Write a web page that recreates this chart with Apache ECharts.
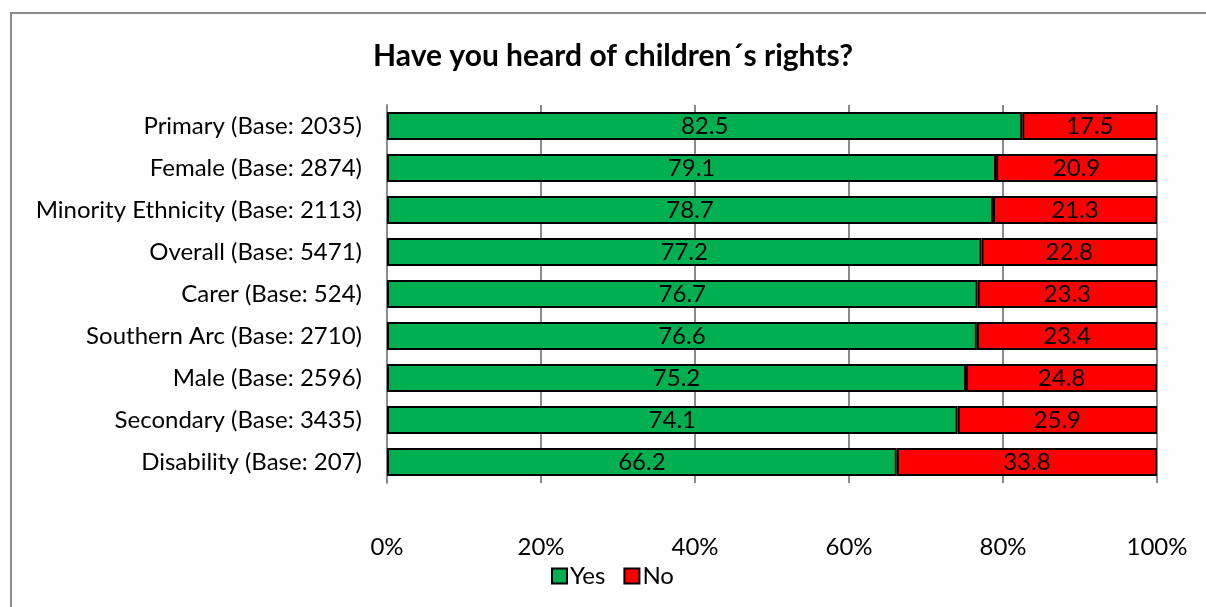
<!DOCTYPE html>
<html><head><meta charset="utf-8">
<script src="https://cdn.jsdelivr.net/npm/echarts@6/dist/echarts.min.js"></script>
<style>html,body{margin:0;padding:0;background:#fff}#c{width:1206px;height:607px}</style>
</head><body><div id="c"></div>
<script>
const categories = ["Primary (Base: 2035)","Female (Base: 2874)","Minority Ethnicity (Base: 2113)","Overall (Base: 5471)","Carer (Base: 524)","Southern Arc (Base: 2710)","Male (Base: 2596)","Secondary (Base: 3435)","Disability (Base: 207)"];
const yesValues = [82.5,79.1,78.7,77.2,76.7,76.6,75.2,74.1,66.2];
const noValues = [17.5,20.9,21.3,22.8,23.3,23.4,24.8,25.9,33.8];
const xTicks = [0,20,40,60,80,100];
const FONT = "Lato, 'Liberation Sans', sans-serif";
const chart = echarts.init(document.getElementById('c'));
chart.setOption({
  animation:false,
  graphic:[{type:'polyline',shape:{points:[[11,1000],[11,13],[1206,13]]},style:{stroke:'#898989',lineWidth:2,fill:null}}],
  title:{text:'Have you heard of children\u00b4s rights?',left:608,top:36,textAlign:'center',
    textStyle:{fontFamily:FONT,fontSize:30,fontWeight:'bold',color:'#000'}},
  legend:{data:['Yes','No'],left:546,top:559,itemWidth:15,itemHeight:15,itemGap:18,
    textStyle:{fontFamily:FONT,fontSize:24,color:'#000',padding:[0,0,0,-2]},icon:'rect'},
  grid:{left:387,right:49,top:105,height:378,containLabel:false},
  xAxis:{type:'value',min:0,max:100,interval:20,
    axisLabel:{formatter:v=>xTicks.includes(v)?v+'%':'',fontFamily:FONT,fontSize:24,color:'#000',margin:52},
    axisLine:{show:false},axisTick:{show:false},
    splitLine:{show:true,lineStyle:{color:'#898989',width:2}}},
  yAxis:{type:'category',inverse:true,data:categories,
    axisLabel:{fontFamily:FONT,fontSize:24,color:'#000',margin:25},
    axisLine:{show:true,lineStyle:{color:'#898989',width:2}},axisTick:{show:false}},
  series:[
    {name:'Yes',type:'bar',stack:'a',data:yesValues,barCategoryGap:'33%',
      itemStyle:{color:'#00B050',borderColor:'#000',borderWidth:2},
      label:{show:true,position:'inside',fontFamily:FONT,fontSize:24,color:'#000',formatter:p=>p.value.toFixed(1)}},
    {name:'No',type:'bar',stack:'a',data:noValues,barCategoryGap:'33%',
      itemStyle:{color:'#FF0000',borderColor:'#000',borderWidth:2},
      label:{show:true,position:'inside',fontFamily:FONT,fontSize:24,color:'#000',formatter:p=>p.value.toFixed(1)}}
  ]
});
</script></body></html>
